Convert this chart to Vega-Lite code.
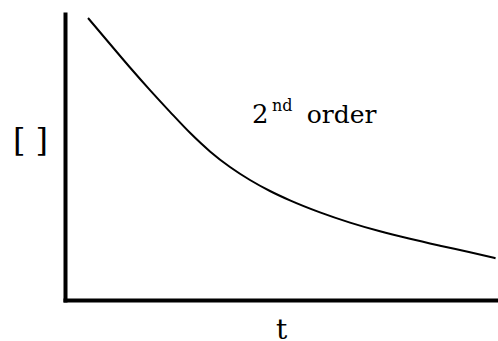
{
  "$schema": "https://vega.github.io/schema/vega-lite/v6.json",
  "autosize": {"type": "none"},
  "padding": {"left": 65, "top": 14, "right": 2, "bottom": 41},
  "width": 431,
  "height": 286,
  "background": "white",
  "config": {
    "view": {"stroke": null},
    "axis": {
      "domainColor": "black",
      "domainWidth": 4,
      "domainCap": "square",
      "ticks": false,
      "labels": false,
      "grid": false,
      "titleFont": "DejaVu Serif",
      "titleFontWeight": "normal",
      "titleColor": "black"
    }
  },
  "datasets": {
    "curve": [
      {"t": 0.534, "c": 9.860},
      {"t": 1.044, "c": 8.951},
      {"t": 1.508, "c": 8.129},
      {"t": 1.972, "c": 7.339},
      {"t": 2.436, "c": 6.580},
      {"t": 2.900, "c": 5.846},
      {"t": 3.364, "c": 5.196},
      {"t": 3.828, "c": 4.650},
      {"t": 4.292, "c": 4.196},
      {"t": 4.756, "c": 3.811},
      {"t": 5.220, "c": 3.483},
      {"t": 5.916, "c": 3.063},
      {"t": 6.613, "c": 2.706},
      {"t": 7.309, "c": 2.402},
      {"t": 8.005, "c": 2.140},
      {"t": 8.701, "c": 1.899},
      {"t": 9.397, "c": 1.668},
      {"t": 9.990, "c": 1.461}
    ],
    "labels": [
      {"t": 4.34, "c": 6.19, "text": "2", "size": 26},
      {"t": 4.80, "c": 6.62, "text": "nd", "size": 16},
      {"t": 5.61, "c": 6.19, "text": "order", "size": 25}
    ]
  },
  "layer": [
    {
      "data": {"name": "curve"},
      "mark": {"type": "line", "color": "black", "strokeWidth": 2, "interpolate": "monotone"},
      "encoding": {
        "x": {"field": "t", "type": "quantitative", "scale": {"domain": [0, 10], "nice": false, "zero": false},
              "axis": {"title": "t", "titleFontSize": 28, "titleAngle": 0, "titleAlign": "center", "titleBaseline": "alphabetic", "titleX": 216, "titleY": 38}},
        "y": {"field": "c", "type": "quantitative", "scale": {"domain": [0, 10], "nice": false, "zero": false},
              "axis": {"title": "[ ]", "titleFontSize": 32, "titleAngle": 0, "titleAlign": "center", "titleBaseline": "alphabetic", "titleX": -35, "titleY": 136}}
      }
    },
    {
      "data": {"name": "labels"},
      "mark": {"type": "text", "font": "DejaVu Serif", "align": "left", "baseline": "alphabetic", "color": "black"},
      "encoding": {
        "x": {"field": "t", "type": "quantitative"},
        "y": {"field": "c", "type": "quantitative"},
        "text": {"field": "text"},
        "size": {"field": "size", "type": "quantitative", "scale": null}
      }
    }
  ]
}
